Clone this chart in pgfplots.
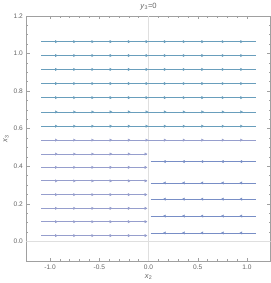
\documentclass[border=0pt]{standalone}
\usepackage{pgfplots}
\pgfplotsset{compat=1.18}
\usepackage{fontspec}
\setmainfont{Liberation Sans}
\definecolor{framec}{RGB}{160,160,160}
\definecolor{labc}{RGB}{100,100,100}
\definecolor{tealc}{RGB}{105,158,188}
\definecolor{lavc}{RGB}{150,158,205}
\definecolor{bluec}{RGB}{120,142,198}
\newcommand{\FullLine}[2]{%
 \addplot[#2, line width=0.8bp] coordinates {(-1.09,#1) (1.09,#1)};
 \addplot[only marks, mark=triangle*, mark size=1.3bp, #2, mark options={rotate=-90}] coordinates {(-0.94,#1) (-0.755,#1) (-0.57,#1) (-0.385,#1) (-0.2,#1) (-0.02,#1) (0.165,#1) (0.357,#1) (0.546,#1) (0.753,#1) (0.941,#1)};
}
\newcommand{\LeftLine}[2]{%
 \addplot[#2, line width=0.8bp] coordinates {(-1.09,#1) (-0.02,#1)};
 \addplot[only marks, mark=triangle*, mark size=1.3bp, #2, mark options={rotate=-90}] coordinates {(-0.94,#1) (-0.755,#1) (-0.57,#1) (-0.385,#1) (-0.2,#1) (-0.03,#1)};
}
\newcommand{\RightLine}[2]{%
 \addplot[#2, line width=0.8bp] coordinates {(0.02,#1) (1.09,#1)};
 \addplot[only marks, mark=triangle*, mark size=1.3bp, #2, mark options={rotate=90}] coordinates {(0.165,#1) (0.357,#1) (0.546,#1) (0.753,#1) (0.941,#1)};
}
\begin{document}
\begin{tikzpicture}
\begin{axis}[
  scale only axis, width=240bp, height=241bp,
  xmin=-1.24, xmax=1.24, ymin=-0.105, ymax=1.2,
  xtick={-1,-0.5,0,0.5,1}, minor x tick num=4,
  ytick={0,0.2,0.4,0.6,0.8,1.0,1.2}, minor y tick num=3,
  tick align=inside, major tick length=3.5bp, minor tick length=2bp,
  tick style={framec, line width=0.5bp},
  axis line style={framec, line width=0.6bp},
  /pgf/number format/assume math mode=true,
  /pgf/number format/fixed, /pgf/number format/fixed zerofill, /pgf/number format/precision=1,
  ticklabel style={font=\fontsize{6.5}{7}\selectfont, text=labc},
  title={\textit{y}\textsubscript{3}=0},
  title style={font=\fontsize{7.5}{8}\selectfont, text=labc, yshift=-4bp},
  xlabel={\textit{x}\textsubscript{2}}, ylabel={\textit{x}\textsubscript{3}},
  label style={font=\fontsize{7.5}{8}\selectfont, text=labc},
  xlabel style={yshift=2bp}, ylabel style={yshift=-2bp},
]
\addplot[gray!25, line width=1.3bp] coordinates {(0,-0.105) (0,1.2)};
\addplot[gray!25, line width=1.3bp] coordinates {(-1.24,0) (1.24,0)};
\FullLine{1.063}{tealc}
\FullLine{0.989}{tealc}
\FullLine{0.915}{tealc}
\FullLine{0.840}{tealc}
\FullLine{0.765}{tealc}
\FullLine{0.689}{tealc}
\FullLine{0.613}{tealc}
\FullLine{0.539}{lavc}
\LeftLine{0.465}{lavc}
\LeftLine{0.394}{lavc}
\LeftLine{0.322}{lavc}
\LeftLine{0.249}{lavc}
\LeftLine{0.176}{lavc}
\LeftLine{0.105}{lavc}
\LeftLine{0.031}{lavc}
\RightLine{0.425}{bluec}
\RightLine{0.311}{bluec}
\RightLine{0.225}{bluec}
\RightLine{0.135}{bluec}
\RightLine{0.045}{bluec}
\end{axis}
\end{tikzpicture}
\end{document}
